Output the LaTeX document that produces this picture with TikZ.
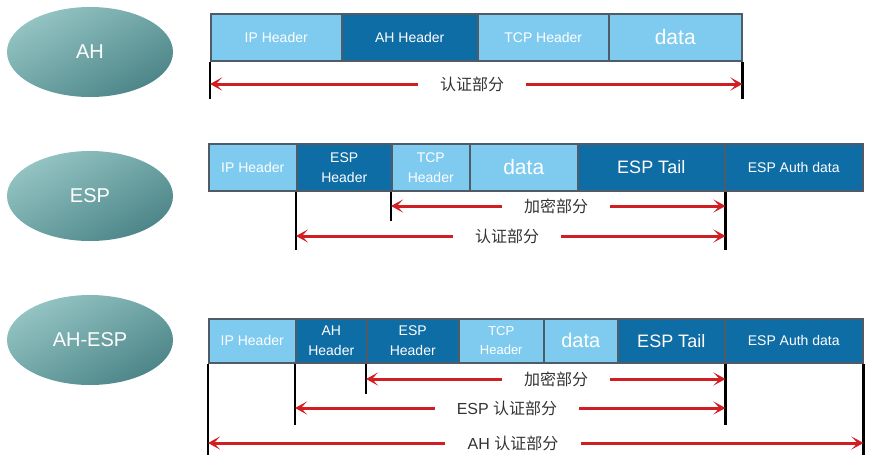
\documentclass[tikz,border=0pt]{standalone}
\usepackage{fontspec}
\setmainfont{Liberation Sans}
\newfontfamily\cjk{Noto Sans CJK SC}
\usetikzlibrary{arrows.meta,shapes.geometric}
\definecolor{lblue}{HTML}{7ECBEF}
\definecolor{dblue}{HTML}{0F6DA6}
\definecolor{bord}{HTML}{4F5B66}
\definecolor{arred}{HTML}{D01E22}
\definecolor{elltop}{HTML}{94C4C3}
\definecolor{ellbot}{HTML}{4C8588}
\tikzset{
  pbox/.style={draw=bord, line width=1.5pt, anchor=north west, inner sep=0pt, text=white, align=center, font=\fontsize{14}{20}\selectfont},
  lb/.style={pbox, fill=lblue},
  db/.style={pbox, fill=dblue},
  oval/.style={ellipse, minimum width=166pt, minimum height=90pt, top color=elltop, bottom color=ellbot, shading angle=30, text=white, font=\fontsize{20}{24}\selectfont},
  vline/.style={line width=2.4pt, black},
  arr/.style={line width=3pt, draw=arred, -{Stealth[length=12pt,width=13pt,inset=6pt]}},
  lab/.style={text=black!80, inner xsep=22pt, inner ysep=0pt, font=\fontsize{16}{19}\selectfont}
}
\begin{document}
\begin{tikzpicture}[x=1pt,y=-1pt]
\useasboundingbox (0,0) rectangle (878,461);
% ellipses
\node[oval] (eAH) at (90,52) {AH};
\node[oval] (eESP) at (90,196) {ESP};
\node[oval] (eAE) at (90,340) {AH-ESP};
% row 1
\node[lb, minimum width=131pt, minimum height=47pt] (a1) at (210,13) {IP Header};
\node[db, minimum width=136pt, minimum height=47pt] (a2) at (341,13) {AH Header};
\node[lb, minimum width=131pt, minimum height=47pt] (a3) at (477,13) {TCP Header};
\node[lb, minimum width=133pt, minimum height=47pt, font=\fontsize{21}{24}\selectfont] (a4) at (608,13) {data};
\coordinate (a1b) at ([yshift=-37pt]a1.south west);
\coordinate (a4b) at ([yshift=-37pt]a4.south east);
\draw[vline] (a1.south west) -- (a1b);
\draw[vline] (a4.south east) -- (a4b);
\node[lab] (l1) at (472,84) {\cjk 认证部分};
\draw[arr] (l1.west) -- (a1.south west |- l1.west);
\draw[arr] (l1.east) -- (a4.south east |- l1.east);
% row 2
\node[lb, minimum width=88pt, minimum height=47pt] (b1) at (208,143) {IP Header};
\node[db, minimum width=95pt, minimum height=47pt] (b2) at (296,143) {ESP\\Header};
\node[lb, minimum width=78pt, minimum height=47pt] (b3) at (391,143) {TCP\\Header};
\node[lb, minimum width=108pt, minimum height=47pt, font=\fontsize{21}{24}\selectfont] (b4) at (469,143) {data};
\node[db, minimum width=147pt, minimum height=47pt, font=\fontsize{18}{22}\selectfont] (b5) at (577,143) {ESP Tail};
\node[db, minimum width=138pt, minimum height=47pt] (b6) at (724,143) {ESP Auth data};
\coordinate (b2b) at ([yshift=-58pt]b2.south west);
\coordinate (b3b) at ([yshift=-29pt]b3.south west);
\coordinate (b5b) at ([yshift=-58pt]b5.south east);
\draw[vline] (b2.south west) -- (b2b);
\draw[vline] (b3.south west) -- (b3b);
\draw[vline] (b5.south east) -- (b5b);
\node[lab] (l2) at (556,206) {\cjk 加密部分};
\draw[arr] (l2.west) -- (b3.south west |- l2.west);
\draw[arr] (l2.east) -- (b5.south east |- l2.east);
\node[lab] (l3) at (507,236) {\cjk 认证部分};
\draw[arr] (l3.west) -- (b2.south west |- l3.west);
\draw[arr] (l3.east) -- (b5.south east |- l3.east);
% row 3
\node[lb, minimum width=87pt, minimum height=44pt] (c1) at (208,318) {IP Header};
\node[db, minimum width=71pt, minimum height=44pt] (c2) at (295,318) {AH\\Header};
\node[db, minimum width=92pt, minimum height=44pt] (c3) at (366,318) {ESP\\Header};
\node[lb, minimum width=85pt, minimum height=44pt, font=\fontsize{13}{19}\selectfont] (c4) at (458,318) {TCP\\Header};
\node[lb, minimum width=74pt, minimum height=44pt, font=\fontsize{20}{24}\selectfont] (c5) at (543,318) {data};
\node[db, minimum width=107pt, minimum height=44pt, font=\fontsize{18}{22}\selectfont] (c6) at (617,318) {ESP Tail};
\node[db, minimum width=138pt, minimum height=44pt] (c7) at (724,318) {ESP Auth data};
\coordinate (c1b) at ([yshift=-91pt]c1.south west);
\coordinate (c2b) at ([yshift=-61pt]c2.south west);
\coordinate (c3b) at ([yshift=-30pt]c3.south west);
\coordinate (c6b) at ([yshift=-61pt]c6.south east);
\coordinate (c7b) at ([yshift=-91pt]c7.south east);
\draw[vline] (c1.south west) -- (c1b);
\draw[vline] (c2.south west) -- (c2b);
\draw[vline] (c3.south west) -- (c3b);
\draw[vline] (c6.south east) -- (c6b);
\draw[vline] (c7.south east) -- (c7b);
\node[lab] (l4) at (556,379) {\cjk 加密部分};
\draw[arr] (l4.west) -- (c3.south west |- l4.west);
\draw[arr] (l4.east) -- (c6.south east |- l4.east);
\node[lab] (l5) at (507,408) {ESP {\cjk 认证部分}};
\draw[arr] (l5.west) -- (c2.south west |- l5.west);
\draw[arr] (l5.east) -- (c6.south east |- l5.east);
\node[lab] (l6) at (513,443) {AH {\cjk 认证部分}};
\draw[arr] (l6.west) -- (c1.south west |- l6.west);
\draw[arr] (l6.east) -- (c7.south east |- l6.east);
\end{tikzpicture}
\end{document}
